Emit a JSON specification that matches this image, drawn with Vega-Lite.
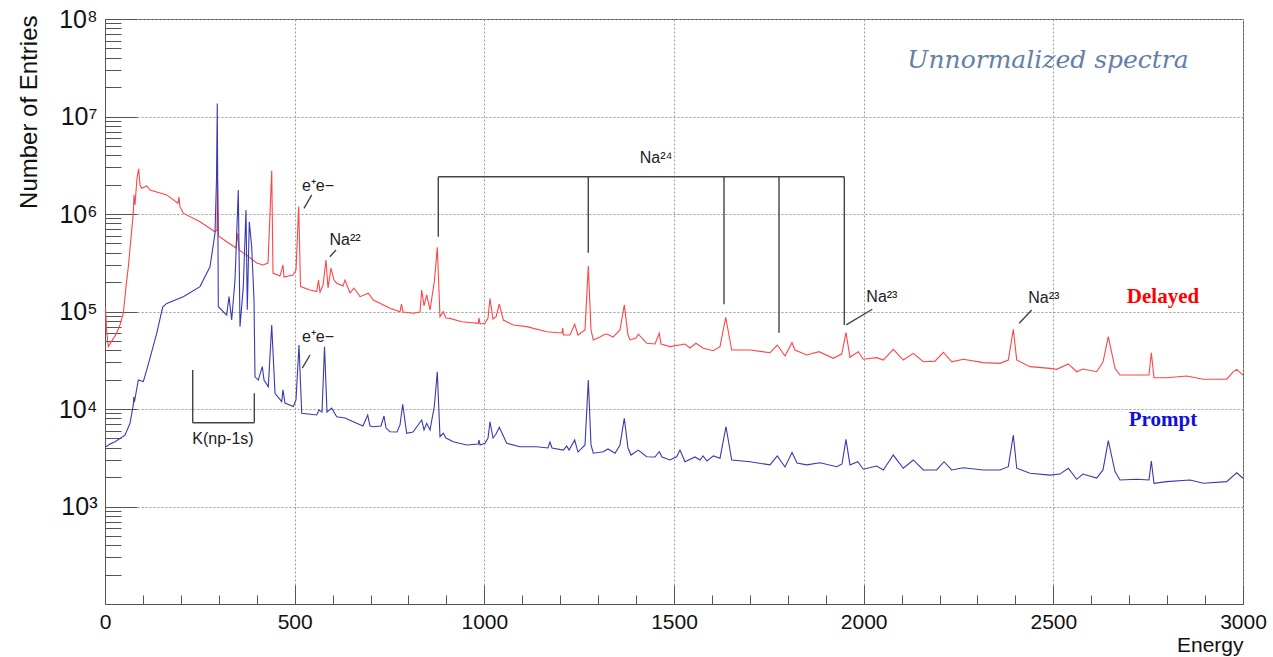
{
"$schema": "https://vega.github.io/schema/vega-lite/v6.json",
"width": 1138, "height": 585,
"autosize": {"type": "none"},
"padding": {"left": 105, "top": 19, "right": 30, "bottom": 53},
"background": "white",
"config": {"view": {"stroke": "#555", "strokeWidth": 1}, "font": "Liberation Sans"},
"datasets": {
"delayed": [
{"E":1.3,"v":1.12e5},{"E":4,"v":6.46e4},{"E":8.7,"v":4.36e4},{"E":30.8,"v":6.0e4},{"E":39.5,"v":7.27e4},{"E":48.3,"v":9.6e4},{"E":55.4,"v":1.8e5},{"E":61.5,"v":2.88e5},{"E":74.6,"v":1.02e6},{"E":76.5,"v":1.57e6},{"E":79.1,"v":1.24e6},{"E":84.4,"v":2.34e6},{"E":88.8,"v":2.9e6},{"E":92.3,"v":1.98e6},{"E":96.7,"v":1.84e6},{"E":109.9,"v":1.94e6},{"E":118.6,"v":1.76e6},{"E":162.7,"v":1.57e6},{"E":192.4,"v":1.29e6},{"E":195.1,"v":1.49e6},{"E":197.7,"v":1.19e6},{"E":206.4,"v":1.02e6},{"E":250.4,"v":8.34e5},{"E":290,"v":6.58e5},{"E":295.3,"v":6.85e5},{"E":296.6,"v":2.23e6},{"E":299.2,"v":5.94e5},{"E":320.8,"v":5.2e5},{"E":345.3,"v":4.48e5},{"E":349.8,"v":6.34e5},{"E":353.3,"v":4.27e5},{"E":373.5,"v":3.79e5},{"E":399.9,"v":3.14e5},{"E":416.5,"v":3.0e5},{"E":429.7,"v":3.14e5},{"E":439.5,"v":2.78e6},{"E":442.9,"v":2.48e5},{"E":461.3,"v":2.31e5},{"E":469.2,"v":3.0e5},{"E":471.9,"v":2.26e5},{"E":495.6,"v":2.37e5},{"E":503.5,"v":2.67e5},{"E":510.6,"v":1.19e6},{"E":515.4,"v":1.8e5},{"E":540.4,"v":1.66e5},{"E":558.1,"v":1.6e5},{"E":562.8,"v":2.1e5},{"E":566.8,"v":1.58e5},{"E":574.7,"v":1.87e5},{"E":582.6,"v":3.37e5},{"E":587.9,"v":1.74e5},{"E":595.8,"v":2.79e5},{"E":603.7,"v":2.1e5},{"E":610.8,"v":1.95e5},{"E":627.4,"v":1.83e5},{"E":632.7,"v":2.1e5},{"E":645.9,"v":1.55e5},{"E":656.4,"v":1.74e5},{"E":672.2,"v":1.42e5},{"E":694.1,"v":1.54e5},{"E":707.3,"v":1.31e5},{"E":751.3,"v":1.08e5},{"E":777.7,"v":9.95e4},{"E":781.6,"v":1.19e5},{"E":785.6,"v":9.9e4},{"E":812.7,"v":9.6e4},{"E":830.4,"v":9.9e4},{"E":834.9,"v":1.66e5},{"E":841,"v":1.14e5},{"E":848.1,"v":1.48e5},{"E":856.8,"v":1.04e5},{"E":868.1,"v":2.02e5},{"E":876,"v":4.55e5},{"E":883.1,"v":8.85e4},{"E":891.8,"v":9.95e4},{"E":898.9,"v":8.57e4},{"E":909.5,"v":8.5e4},{"E":940.3,"v":7.86e4},{"E":984.1,"v":7.57e4},{"E":985.9,"v":8.63e4},{"E":988.6,"v":7.45e4},{"E":1001.8,"v":7.57e4},{"E":1009.7,"v":8.57e4},{"E":1014.9,"v":1.36e5},{"E":1022.8,"v":8.37e4},{"E":1030.8,"v":8.79e4},{"E":1039.5,"v":1.19e5},{"E":1050,"v":8.18e4},{"E":1076.4,"v":7.27e4},{"E":1111.7,"v":6.99e4},{"E":1164.4,"v":6.21e4},{"E":1204.7,"v":6.02e4},{"E":1206.6,"v":6.78e4},{"E":1208.7,"v":5.74e4},{"E":1225.8,"v":5.74e4},{"E":1238.2,"v":7.39e4},{"E":1246.9,"v":5.74e4},{"E":1265.4,"v":6.46e4},{"E":1274.1,"v":2.93e5},{"E":1281.2,"v":6.46e4},{"E":1287.3,"v":5.11e4},{"E":1304.9,"v":5.47e4},{"E":1313.6,"v":5.74e4},{"E":1323.4,"v":5.87e4},{"E":1339.2,"v":5.47e4},{"E":1357.6,"v":6.46e4},{"E":1369,"v":1.17e5},{"E":1378.7,"v":5.74e4},{"E":1384,"v":5.11e4},{"E":1399.8,"v":5.35e4},{"E":1405.9,"v":5.87e4},{"E":1428,"v":4.72e4},{"E":1449.9,"v":4.64e4},{"E":1461.2,"v":5.97e4},{"E":1465.7,"v":4.64e4},{"E":1489.5,"v":4.36e4},{"E":1529,"v":4.64e4},{"E":1542.2,"v":4.23e4},{"E":1558,"v":4.72e4},{"E":1577.2,"v":4.2e4},{"E":1603.6,"v":3.96e4},{"E":1621.3,"v":4.36e4},{"E":1636.3,"v":8.73e4},{"E":1652.1,"v":4.03e4},{"E":1700.4,"v":4.03e4},{"E":1753.1,"v":3.78e4},{"E":1772.3,"v":4.53e4},{"E":1792.6,"v":3.5e4},{"E":1811.1,"v":4.79e4},{"E":1819,"v":4.03e4},{"E":1849.8,"v":3.58e4},{"E":1882.3,"v":3.87e4},{"E":1919.9,"v":3.31e4},{"E":1942.1,"v":3.66e4},{"E":1953.4,"v":6.07e4},{"E":1963.9,"v":3.39e4},{"E":1985.8,"v":3.87e4},{"E":1999,"v":3.24e4},{"E":2034.4,"v":3.36e4},{"E":2051.8,"v":3.18e4},{"E":2078.1,"v":4.09e4},{"E":2104.5,"v":3.18e4},{"E":2130.8,"v":3.72e4},{"E":2157.2,"v":3.05e4},{"E":2188.1,"v":3.1e4},{"E":2210,"v":3.82e4},{"E":2232.1,"v":3.05e4},{"E":2262.7,"v":3.24e4},{"E":2315.4,"v":2.99e4},{"E":2359.4,"v":2.94e4},{"E":2381.3,"v":3.18e4},{"E":2394.5,"v":6.56e4},{"E":2403.5,"v":3.18e4},{"E":2438.5,"v":2.72e4},{"E":2491.2,"v":2.61e4},{"E":2508.9,"v":2.55e4},{"E":2539.5,"v":2.9e4},{"E":2561.6,"v":2.41e4},{"E":2578.2,"v":2.57e4},{"E":2614.3,"v":2.41e4},{"E":2630.9,"v":3.03e4},{"E":2644.9,"v":5.52e4},{"E":2662.6,"v":2.61e4},{"E":2675.7,"v":2.23e4},{"E":2719.8,"v":2.23e4},{"E":2752.2,"v":2.23e4},{"E":2758.3,"v":3.78e4},{"E":2765.4,"v":2.09e4},{"E":2798.9,"v":2.09e4},{"E":2851.6,"v":2.18e4},{"E":2895.4,"v":2.02e4},{"E":2957,"v":2.02e4},{"E":2973.6,"v":2.39e4},{"E":2983.4,"v":2.55e4},{"E":3000,"v":2.23e4}
],
"prompt": [
{"E":2.6,"v":4.1e3},{"E":13.2,"v":4.38e3},{"E":26.4,"v":4.62e3},{"E":52.7,"v":5.38e3},{"E":65.9,"v":7.13e3},{"E":74.6,"v":1.1e4},{"E":76,"v":1.33e4},{"E":77.5,"v":1.18e4},{"E":87.8,"v":1.98e4},{"E":101,"v":1.91e4},{"E":109.9,"v":2.51e4},{"E":136.3,"v":5.97e4},{"E":152,"v":1.11e5},{"E":162.7,"v":1.21e5},{"E":206.4,"v":1.42e5},{"E":250.4,"v":1.8e5},{"E":276.8,"v":2.88e5},{"E":290,"v":6.34e5},{"E":293.9,"v":2.23e6},{"E":296,"v":1.36e7},{"E":298.7,"v":1.12e5},{"E":320.8,"v":9.2e4},{"E":326.9,"v":1.42e5},{"E":334,"v":8.18e4},{"E":342.7,"v":2.1e5},{"E":351.4,"v":1.76e6},{"E":355.9,"v":6.98e4},{"E":364.6,"v":1.8e5},{"E":371.7,"v":1.1e6},{"E":375.1,"v":1.04e5},{"E":380.4,"v":8.34e5},{"E":386.7,"v":4.62e5},{"E":392.8,"v":1.31e5},{"E":395.4,"v":2.14e4},{"E":404.1,"v":1.98e4},{"E":414.7,"v":2.72e4},{"E":419.2,"v":1.98e4},{"E":430.5,"v":1.69e4},{"E":439.5,"v":7.27e4},{"E":448.2,"v":1.45e4},{"E":465.8,"v":1.19e4},{"E":469.2,"v":1.57e4},{"E":474.5,"v":1.15e4},{"E":496.4,"v":1.06e4},{"E":503.5,"v":1.24e4},{"E":511.4,"v":4.53e4},{"E":518.6,"v":9.04e3},{"E":558.1,"v":8.68e3},{"E":564.2,"v":9.77e3},{"E":572.1,"v":9.31e3},{"E":578.7,"v":4.36e4},{"E":585.2,"v":9.31e3},{"E":597.6,"v":1.02e4},{"E":610.8,"v":8.34e3},{"E":632.7,"v":8.09e3},{"E":663.5,"v":7.13e3},{"E":680,"v":6.7e3},{"E":692.5,"v":8.68e3},{"E":698.6,"v":6.7e3},{"E":707.3,"v":6.58e3},{"E":727.6,"v":6.7e3},{"E":735.5,"v":8.47e3},{"E":740.8,"v":6.38e3},{"E":751.3,"v":5.85e3},{"E":769.8,"v":5.81e3},{"E":777.7,"v":6.86e3},{"E":784.8,"v":1.12e4},{"E":795.3,"v":5.64e3},{"E":812,"v":5.81e3},{"E":834.9,"v":7.71e3},{"E":841,"v":6.1e3},{"E":848.1,"v":7.13e3},{"E":856.8,"v":6.1e3},{"E":868.1,"v":1.06e4},{"E":876,"v":2.41e4},{"E":883.1,"v":5.2e3},{"E":891.8,"v":5.64e3},{"E":898.9,"v":5.04e3},{"E":918.2,"v":4.62e3},{"E":953.5,"v":4.28e3},{"E":984.1,"v":4.38e3},{"E":985.9,"v":4.81e3},{"E":988.6,"v":4.28e3},{"E":1001.8,"v":4.45e3},{"E":1009.7,"v":5.04e3},{"E":1014.9,"v":7.41e3},{"E":1022.8,"v":5.04e3},{"E":1030.8,"v":5.54e3},{"E":1039.5,"v":6.49e3},{"E":1059,"v":4.45e3},{"E":1094,"v":4.1e3},{"E":1138,"v":4.1e3},{"E":1167.8,"v":3.98e3},{"E":1173.1,"v":4.59e3},{"E":1178.4,"v":3.98e3},{"E":1208.2,"v":3.79e3},{"E":1217.1,"v":4.17e3},{"E":1223.2,"v":3.79e3},{"E":1238.2,"v":4.81e3},{"E":1246.9,"v":3.62e3},{"E":1265.4,"v":4.28e3},{"E":1274.1,"v":1.98e4},{"E":1281.2,"v":4.28e3},{"E":1287.3,"v":3.52e3},{"E":1313.6,"v":3.65e3},{"E":1326,"v":3.89e3},{"E":1344.5,"v":3.52e3},{"E":1357.6,"v":4.28e3},{"E":1369,"v":8.04e3},{"E":1378.7,"v":3.98e3},{"E":1386.6,"v":3.37e3},{"E":1405.9,"v":3.79e3},{"E":1428,"v":3.24e3},{"E":1449.9,"v":3.22e3},{"E":1461.2,"v":3.65e3},{"E":1468.4,"v":3.22e3},{"E":1489.5,"v":3.0e3},{"E":1507.1,"v":3.24e3},{"E":1515.8,"v":3.79e3},{"E":1529,"v":2.88e3},{"E":1555.4,"v":3.22e3},{"E":1568.5,"v":3.0e3},{"E":1576.4,"v":3.3e3},{"E":1587,"v":2.93e3},{"E":1603.6,"v":3.3e3},{"E":1621.3,"v":3.13e3},{"E":1637.1,"v":6.58e3},{"E":1652.1,"v":3.0e3},{"E":1700.4,"v":2.88e3},{"E":1753.1,"v":2.67e3},{"E":1772.3,"v":3.3e3},{"E":1792.6,"v":2.54e3},{"E":1811.1,"v":3.57e3},{"E":1824.3,"v":2.79e3},{"E":1849.8,"v":2.67e3},{"E":1884.9,"v":2.81e3},{"E":1929,"v":2.56e3},{"E":1942.9,"v":2.73e3},{"E":1953.4,"v":4.89e3},{"E":1963.9,"v":2.67e3},{"E":1984.2,"v":2.88e3},{"E":1999,"v":2.41e3},{"E":2034.4,"v":2.6e3},{"E":2051.8,"v":2.37e3},{"E":2078.1,"v":3.37e3},{"E":2104.5,"v":2.47e3},{"E":2130.8,"v":3.0e3},{"E":2157.2,"v":2.37e3},{"E":2192.5,"v":2.37e3},{"E":2211.8,"v":2.88e3},{"E":2232.1,"v":2.37e3},{"E":2262.7,"v":2.5e3},{"E":2315.4,"v":2.37e3},{"E":2359.4,"v":2.37e3},{"E":2381.3,"v":2.56e3},{"E":2394.5,"v":5.41e3},{"E":2403.5,"v":2.47e3},{"E":2438.5,"v":2.19e3},{"E":2491.2,"v":2.1e3},{"E":2517.5,"v":2.15e3},{"E":2539.5,"v":2.47e3},{"E":2561.6,"v":1.9e3},{"E":2578.2,"v":2.15e3},{"E":2614.3,"v":1.96e3},{"E":2630.9,"v":2.37e3},{"E":2644.9,"v":4.73e3},{"E":2662.6,"v":2.28e3},{"E":2675.7,"v":1.87e3},{"E":2719.8,"v":1.9e3},{"E":2752.2,"v":1.87e3},{"E":2758.3,"v":2.93e3},{"E":2765.4,"v":1.73e3},{"E":2798.9,"v":1.8e3},{"E":2860.3,"v":1.87e3},{"E":2895.4,"v":1.73e3},{"E":2957,"v":1.8e3},{"E":2983.4,"v":2.22e3},{"E":3000,"v":1.95e3}
],
"rules": [
{"E":878.6,"v":2.41e6,"E2":1949,"v2":2.41e6},
{"E":878.6,"v":2.41e6,"E2":878.6,"v2":5.85e5},
{"E":1274,"v":2.41e6,"E2":1274,"v2":4.0e5},
{"E":1631.8,"v":2.41e6,"E2":1631.8,"v2":1.19e5},
{"E":1776.8,"v":2.41e6,"E2":1776.8,"v2":6.07e4},
{"E":1949,"v":2.41e6,"E2":1949,"v2":7.28e4},
{"E":1954,"v":7.28e4,"E2":2022.8,"v2":1.055e5},
{"E":2410,"v":7.57e4,"E2":2443,"v2":1.035e5},
{"E":524.6,"v":1.14e6,"E2":545,"v2":1.57e6},
{"E":520.1,"v":2.63e4,"E2":540.4,"v2":3.58e4},
{"E":593,"v":3.65e5,"E2":609,"v2":4.28e5},
{"E":231.2,"v":2.51e4,"E2":231.2,"v2":7.23e3},
{"E":231.2,"v":7.23e3,"E2":393.6,"v2":7.23e3},
{"E":393.6,"v":7.23e3,"E2":393.6,"v2":1.45e4}
],
"notes": [
{"E":561.5,"v":1.94e6,"t":"e⁺e−"},
{"E":561.5,"v":5.47e4,"t":"e⁺e−"},
{"E":632.7,"v":5.41e5,"t":"Na²²"},
{"E":1452.6,"v":3.75e6,"t":"Na²⁴"},
{"E":2048,"v":1.41e5,"t":"Na²³"},
{"E":2475,"v":1.37e5,"t":"Na²³"},
{"E":311,"v":4.92e3,"t":"K(np-1s)"}
],
"heading": [{"E":2486,"v":3.79e7,"t":"Unnormalized spectra"}],
"tagD": [{"E":2789,"v":1.41e5,"t":"Delayed"}],
"tagP": [{"E":2789,"v":7.71e3,"t":"Prompt"}]
},
"layer": [
{"data": {"name": "delayed"},
 "mark": {"type": "line", "color": "#ff4545", "strokeWidth": 1.1},
 "encoding": {
  "x": {"field": "E", "type": "quantitative", "scale": {"domain": [0, 3000], "nice": false, "zero": false},
        "axis": {"orient": "bottom", "values": [0,500,1000,1500,2000,2500,3000], "format": "d", "labelFontSize": 21, "labelColor": "#111", "labelFlush": false, "labelOverlap": false, "tickSize": -19, "labelPadding": 26, "tickColor": "#555", "domainColor": "#555", "grid": true, "gridDash": [2,2], "gridColor": "#9a9a9a",
                 "title": "Energy", "titleFontSize": 21, "titleFontWeight": "normal", "titleColor": "#111", "titleX": 1138, "titleY": 41, "titleAlign": "right", "titleBaseline": "middle"}},
  "y": {"field": "v", "type": "quantitative", "scale": {"type": "log", "domain": [100, 100000000], "nice": false},
        "axis": {"orient": "left", "values": [1000,10000,100000,1000000,10000000,100000000], "labelExpr": "'10' + ['⁰','¹','²','³','⁴','⁵','⁶','⁷','⁸'][round(log(datum.value)/LN10)]", "labelFontSize": 25, "labelColor": "#111", "labelFlush": false, "labelOverlap": false, "tickSize": -32, "labelPadding": 40, "tickColor": "#555", "domainColor": "#555", "grid": true, "gridDash": [2,2], "gridColor": "#9a9a9a",
                 "title": "Number of Entries", "titleFontSize": 24, "titleFontWeight": "normal", "titleColor": "#111", "titleX": -76, "titleY": -4, "titleAngle": -90, "titleAlign": "right", "titleBaseline": "middle"}}
 }},
{"data": {"name": "prompt"},
 "mark": {"type": "line", "color": "#3a3ab0", "strokeWidth": 1.1},
 "encoding": {
  "x": {"field": "E", "type": "quantitative",
        "axis": {"orient": "bottom", "values": [100,200,300,400,600,700,800,900,1100,1200,1300,1400,1600,1700,1800,1900,2100,2200,2300,2400,2600,2700,2800,2900], "labels": false, "domain": false, "grid": false, "tickSize": -9, "tickColor": "#555", "title": null}},
  "y": {"field": "v", "type": "quantitative",
        "axis": {"orient": "left", "values": [200,300,400,500,600,700,800,900,2000,3000,4000,5000,6000,7000,8000,9000,20000,30000,40000,50000,60000,70000,80000,90000,200000,300000,400000,500000,600000,700000,800000,900000,2000000,3000000,4000000,5000000,6000000,7000000,8000000,9000000,20000000,30000000,40000000,50000000,60000000,70000000,80000000,90000000], "labels": false, "domain": false, "grid": false, "tickSize": -16, "tickColor": "#555", "title": null}}
 }},
{"data": {"name": "rules"},
 "mark": {"type": "rule", "color": "#444", "strokeWidth": 1.4},
 "encoding": {
  "x": {"field": "E", "type": "quantitative", "axis": null}, "x2": {"field": "E2"},
  "y": {"field": "v", "type": "quantitative", "axis": null}, "y2": {"field": "v2"}
 }},
{"data": {"name": "notes"},
 "mark": {"type": "text", "font": "Liberation Sans", "fontSize": 16, "color": "#222", "align": "center", "baseline": "middle"},
 "encoding": {
  "x": {"field": "E", "type": "quantitative", "axis": null},
  "y": {"field": "v", "type": "quantitative", "axis": null},
  "text": {"field": "t"}
 }},
{"data": {"name": "heading"},
 "mark": {"type": "text", "font": "DejaVu Serif", "fontStyle": "italic", "fontSize": 25, "color": "#6480a6", "align": "center", "baseline": "middle"},
 "encoding": {
  "x": {"field": "E", "type": "quantitative", "axis": null},
  "y": {"field": "v", "type": "quantitative", "axis": null},
  "text": {"field": "t"}
 }},
{"data": {"name": "tagD"},
 "mark": {"type": "text", "font": "Liberation Serif", "fontWeight": "bold", "fontSize": 21, "color": "#ff0000", "align": "center", "baseline": "middle"},
 "encoding": {
  "x": {"field": "E", "type": "quantitative", "axis": null},
  "y": {"field": "v", "type": "quantitative", "axis": null},
  "text": {"field": "t"}
 }},
{"data": {"name": "tagP"},
 "mark": {"type": "text", "font": "Liberation Serif", "fontWeight": "bold", "fontSize": 21, "color": "#1010e0", "align": "center", "baseline": "middle"},
 "encoding": {
  "x": {"field": "E", "type": "quantitative", "axis": null},
  "y": {"field": "v", "type": "quantitative", "axis": null},
  "text": {"field": "t"}
 }}
],
"resolve": {"axis": {"x": "independent", "y": "independent"}}
}
